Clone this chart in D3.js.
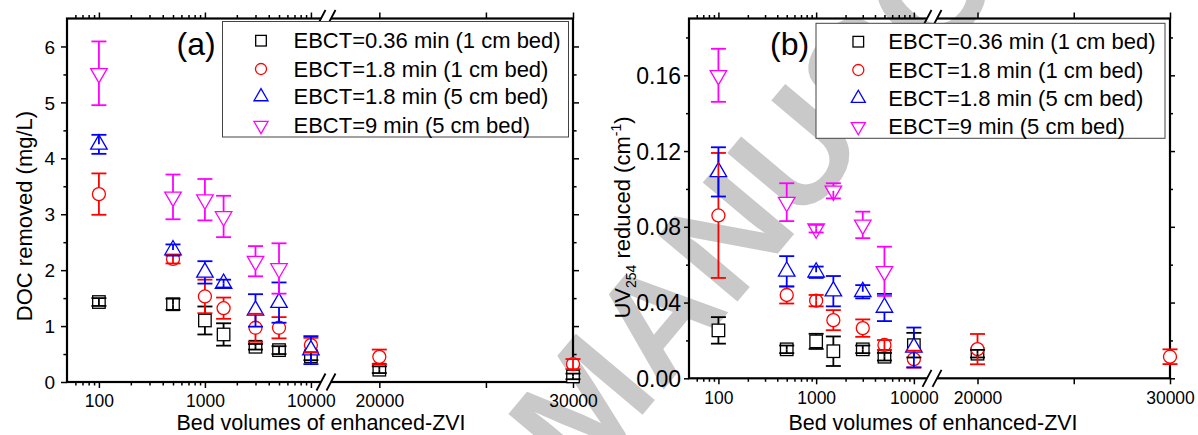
<!DOCTYPE html>
<html>
<head>
<meta charset="utf-8">
<script src="https://cdn.jsdelivr.net/npm/d3@7"></script>
<style>
  html, body { margin: 0; padding: 0; background: #fff; }
  svg { display: block; font-family: "Liberation Sans", Arial, Helvetica, sans-serif; }
</style>
</head>
<body>
<svg id="chart" width="1198" height="435"></svg>
<script>
// ---- data ---------------------------------------------------------------
// bed volumes at which the effluent was sampled
const bedVolumes = [100, 500, 1000, 1500, 3000, 5000, 10000, 20000, 30000];

const seriesNames = [
  "EBCT=0.36 min (1 cm bed)",
  "EBCT=1.8 min (1 cm bed)",
  "EBCT=1.8 min (5 cm bed)",
  "EBCT=9 min (5 cm bed)"
];
const seriesColors = ["#000000", "#ff0000", "#0000ff", "#ff00ff"];
const seriesShapes = ["square", "circle", "triangleUp", "triangleDown"];

// (a) DOC removed, mg/L (mean and standard deviation)
const docShortBed036 = [1.43, 1.39, 1.10, 0.85, 0.63, 0.57, 0.46, 0.22, 0.10];
const docShortBed036Sd = [0.07, 0.10, 0.25, 0.20, 0.05, 0.07, 0.07, 0.06, 0.05];
const docShortBed18 = [3.36, 2.20, 1.53, 1.32, 0.97, 0.97, 0.66, 0.45, 0.32];
const docShortBed18Sd = [0.37, 0.08, 0.30, 0.19, 0.25, 0.19, 0.13, 0.13, 0.09];
const docLongBed18 = [4.25, 2.36, 1.96, 1.76, 1.28, 1.42, 0.57, null, null];
const docLongBed18Sd = [0.17, 0.10, 0.20, 0.07, 0.29, 0.36, 0.25, null, null];
const docLongBed9 = [5.52, 3.31, 3.26, 2.96, 2.16, 2.03, null, null, null];
const docLongBed9Sd = [0.57, 0.40, 0.37, 0.37, 0.27, 0.45, null, null, null];

// (b) UV254 reduced, 1/cm (mean and standard deviation)
const uvShortBed036 = [0.0253, 0.0153, 0.0195, 0.0143, 0.0153, 0.0114, 0.0175, 0.0130, null];
const uvShortBed036Sd = [0.0070, 0.0020, 0.0040, 0.0078, 0.0020, 0.0020, 0.0065, 0.0020, null];
const uvShortBed18 = [0.0860, 0.0440, 0.0410, 0.0307, 0.0265, 0.0176, 0.0101, 0.0154, 0.0114];
const uvShortBed18Sd = [0.0330, 0.0045, 0.0030, 0.0053, 0.0046, 0.0026, 0.0045, 0.0080, 0.0039];
const uvLongBed18 = [0.1090, 0.0565, 0.0560, 0.0460, 0.0457, 0.0374, 0.0163, null, null];
const uvLongBed18Sd = [0.0130, 0.0080, 0.0030, 0.0080, 0.0035, 0.0072, 0.0105, null, null];
const uvLongBed9 = [0.1600, 0.0930, 0.0790, 0.0990, 0.0810, 0.0565, null, null, null];
const uvLongBed9Sd = [0.0140, 0.0100, 0.0020, 0.0040, 0.0070, 0.0130, null, null, null];

// axis ranges and ticks
const lowerBvDomain = [50, 13000];      // logarithmic part of the broken axis
const upperBvDomain = [18000, 30000];   // part after the axis break
const bvMajorLow = [100, 1000, 10000];
const bvMinorLow = [60, 70, 80, 90, 200, 300, 400, 500, 600, 700, 800, 900,
                    2000, 3000, 4000, 5000, 6000, 7000, 8000, 9000];
const bvMajorHigh = [20000, 25000, 30000];
const bvHighLabels = ["20000", "", "30000"];

const docMax = 6.5;
const docTicks = [0, 1, 2, 3, 4, 5, 6];
const docMinorTicks = [0.5, 1.5, 2.5, 3.5, 4.5, 5.5];
const uvMax = 0.19;
const uvTicks = [0, 0.04, 0.08, 0.12, 0.16];
const uvMinorTicks = [0.02, 0.06, 0.10, 0.14, 0.18];

// ---- drawing ------------------------------------------------------------
const svg = d3.select("#chart");

// background watermark
svg.append("text")
  .attr("transform", "translate(581,488) rotate(-50)")
  .attr("fill", "#c9c9c9")
  .attr("font-weight", "bold")
  .attr("font-size", 150)
  .text("MANUSCRIPT");

const SQ = 12.5, CR = 6.5, TRI = 16.5;

function symbolPath(shape, k) {
  const s = TRI * k, h = s * Math.sqrt(3) / 2;
  if (shape === "triangleUp")
    return `M0,${-2 * h / 3}L${s / 2},${h / 3}L${-s / 2},${h / 3}Z`;
  return `M0,${2 * h / 3}L${s / 2},${-h / 3}L${-s / 2},${-h / 3}Z`;
}

function drawSymbol(g, shape, color, cx, cy, k) {
  if (shape === "square") {
    g.append("rect").attr("x", cx - SQ * k / 2).attr("y", cy - SQ * k / 2)
      .attr("width", SQ * k).attr("height", SQ * k)
      .attr("fill", "#fff").attr("stroke", color).attr("stroke-width", 1.3);
  } else if (shape === "circle") {
    g.append("circle").attr("cx", cx).attr("cy", cy).attr("r", CR * k)
      .attr("fill", "#fff").attr("stroke", color).attr("stroke-width", 1.3);
  } else {
    g.append("path").attr("transform", `translate(${cx},${cy})`)
      .attr("d", symbolPath(shape, k))
      .attr("fill", "#fff").attr("stroke", color).attr("stroke-width", 1.3);
  }
}

// vertical extent of a symbol above / below its centre
function symbolEdges(shape) {
  const h = TRI * Math.sqrt(3) / 2;
  if (shape === "square") return [SQ / 2, SQ / 2];
  if (shape === "circle") return [CR, CR];
  if (shape === "triangleUp") return [2 * h / 3, h / 3];
  return [h / 3, 2 * h / 3];
}

function drawPanel(p) {
  const g = svg.append("g");
  const sxLow = d3.scaleLog().domain(lowerBvDomain).range([p.left, p.lowEnd]);
  const sxHigh = (p.highLog ? d3.scaleLog() : d3.scaleLinear())
    .domain(upperBvDomain).range([p.highStart, p.right]);
  const x = v => (v <= lowerBvDomain[1] ? sxLow(v) : sxHigh(v));
  const y = d3.scaleLinear().domain([0, p.yMax]).range([p.bottom, p.top]);

  const styleTicks = sel => {
    sel.select(".domain").remove();
    sel.selectAll("line").attr("stroke", "#000").attr("stroke-width", 1.5);
  };
  const noLabel = () => "";

  // x ticks, bottom (labelled) and top (mirrored)
  [[sxLow, bvMajorLow, bvMinorLow], [sxHigh, bvMajorHigh, []]].forEach(([sc, maj, min], i) => {
    const labels = i === 0 ? d3.format("d") : (d => bvHighLabels[bvMajorHigh.indexOf(d)]);
    const bm = g.append("g").attr("transform", `translate(0,${p.bottom})`)
      .call(d3.axisBottom(sc).tickValues(maj).tickSize(6).tickFormat(labels));
    styleTicks(bm);
    bm.selectAll("text").attr("y", p.xLabelY - p.bottom).attr("dy", "0.35em")
      .attr("font-size", 17.5).attr("fill", "#000").attr("font-family", null);
    if (min.length) {
      styleTicks(g.append("g").attr("transform", `translate(0,${p.bottom})`)
        .call(d3.axisBottom(sc).tickValues(min).tickSize(3.5).tickFormat(noLabel)));
      styleTicks(g.append("g").attr("transform", `translate(0,${p.top})`)
        .call(d3.axisTop(sc).tickValues(min).tickSize(3.5).tickFormat(noLabel)));
    }
    styleTicks(g.append("g").attr("transform", `translate(0,${p.top})`)
      .call(d3.axisTop(sc).tickValues(maj).tickSize(6).tickFormat(noLabel)));
  });

  // y ticks, left (labelled) and right (mirrored)
  const ly = g.append("g").attr("transform", `translate(${p.left},0)`)
    .call(d3.axisLeft(y).tickValues(p.yTicks).tickSize(p.yTickLen)
      .tickPadding(p.yPad).tickFormat(p.yFmt));
  styleTicks(ly);
  ly.selectAll("text").attr("font-size", p.yFont).attr("fill", "#000")
    .attr("dy", "0.35em").attr("font-family", null);
  styleTicks(g.append("g").attr("transform", `translate(${p.left},0)`)
    .call(d3.axisLeft(y).tickValues(p.yMinor).tickSize(p.yTickLen * 0.6).tickFormat(noLabel)));
  styleTicks(g.append("g").attr("transform", `translate(${p.right},0)`)
    .call(d3.axisRight(y).tickValues(p.yTicks).tickSize(p.yTickLen).tickFormat(noLabel)));
  styleTicks(g.append("g").attr("transform", `translate(${p.right},0)`)
    .call(d3.axisRight(y).tickValues(p.yMinor).tickSize(p.yTickLen * 0.6).tickFormat(noLabel)));

  // frame
  g.append("rect").attr("x", p.left).attr("y", p.top)
    .attr("width", p.right - p.left).attr("height", p.bottom - p.top)
    .attr("fill", "none").attr("stroke", "#000").attr("stroke-width", 2.2);

  // axis break marks
  [p.top, p.bottom].forEach(yy => {
    g.append("rect").attr("x", p.breakX - 5).attr("y", yy - 2)
      .attr("width", 10).attr("height", 4).attr("fill", "#fff");
    [-5, 5].forEach(off => {
      g.append("line")
        .attr("x1", p.breakX + off - 4.5).attr("y1", yy + 8.5)
        .attr("x2", p.breakX + off + 4.5).attr("y2", yy - 8.5)
        .attr("stroke", "#000").attr("stroke-width", 1.8);
    });
  });

  // symbols (all series first), then error bars on top
  const marks = g.append("g");
  const bars = g.append("g");
  p.series.forEach((s, si) => {
    const shape = seriesShapes[si], color = seriesColors[si];
    bedVolumes.forEach((bv, i) => {
      const v = s.mean[i];
      if (v == null) return;
      drawSymbol(marks, shape, color, x(bv), y(v), 1);
    });
  });
  p.series.forEach((s, si) => {
    const shape = seriesShapes[si], color = seriesColors[si];
    const [up, down] = symbolEdges(shape);
    bedVolumes.forEach((bv, i) => {
      const v = s.mean[i], e = s.sd[i];
      if (v == null || e == null) return;
      const cx = x(bv), cy = y(v), yt = y(v + e), yb = y(v - e);
      const bg = bars.append("g").attr("stroke", color).attr("stroke-width", 1.8);
      const topFrom = yt < cy - up - 0.5 ? cy - up : cy;
      const botFrom = yb > cy + down + 0.5 ? cy + down : cy;
      bg.append("line").attr("x1", cx).attr("x2", cx).attr("y1", topFrom).attr("y2", yt);
      bg.append("line").attr("x1", cx).attr("x2", cx).attr("y1", botFrom).attr("y2", yb);
      bg.append("line").attr("x1", cx - 7.5).attr("x2", cx + 7.5).attr("y1", yt).attr("y2", yt);
      bg.append("line").attr("x1", cx - 7.5).attr("x2", cx + 7.5).attr("y1", yb).attr("y2", yb);
    });
  });

  // axis titles
  g.append("text").attr("x", p.xTitleX).attr("y", p.xTitleY)
    .attr("text-anchor", "middle").attr("font-size", 21.5)
    .text("Bed volumes of enhanced-ZVI");
  const yt = g.append("text")
    .attr("transform", `translate(${p.yTitleX},${p.yTitleY}) rotate(-90)`)
    .attr("text-anchor", "middle").attr("font-size", 22);
  p.yTitle(yt);

  // panel letter
  g.append("text").attr("x", p.tagX).attr("y", 55).attr("font-size", 32).text(p.tag);

  // legend
  const L = p.legend;
  g.append("rect").attr("x", L.x0).attr("y", L.y0)
    .attr("width", L.x1 - L.x0).attr("height", L.y1 - L.y0)
    .attr("fill", "#fff").attr("stroke", "#444").attr("stroke-width", 1);
  seriesNames.forEach((name, si) => {
    drawSymbol(g, seriesShapes[si], seriesColors[si], L.symX, L.rows[si], 0.85);
    g.append("text").attr("x", L.textX).attr("y", L.rows[si]).attr("dy", "0.35em")
      .attr("font-size", 22).text(name);
  });
}

drawPanel({
  left: 67, right: 573, top: 18.5, bottom: 382,
  lowEnd: 323, highStart: 329, breakX: 326, highLog: true,
  yMax: docMax, yTicks: docTicks, yMinor: docMinorTicks,
  yFmt: d3.format("d"), yFont: 19, yTickLen: 6, yPad: 6,
  xLabelY: 401, xTitleX: 321, xTitleY: 430.4,
  yTitleX: 31.5, yTitleY: 216,
  yTitle: t => t.text("DOC removed (mg/L)"),
  tag: "(a)", tagX: 176.5,
  legend: { x0: 222.5, y0: 21.5, x1: 568.5, y1: 137, symX: 261, textX: 293.5,
            rows: [40.7, 69, 96.7, 125.5] },
  series: [
    { mean: docShortBed036, sd: docShortBed036Sd },
    { mean: docShortBed18, sd: docShortBed18Sd },
    { mean: docLongBed18, sd: docLongBed18Sd },
    { mean: docLongBed9, sd: docLongBed9Sd }
  ]
});

drawPanel({
  left: 689, right: 1170, top: 18.5, bottom: 378.3,
  lowEnd: 925, highStart: 939, breakX: 932, highLog: false,
  yMax: uvMax, yTicks: uvTicks, yMinor: uvMinorTicks,
  yFmt: d3.format(".2f"), yFont: 23, yTickLen: 5, yPad: 3,
  xLabelY: 398, xTitleX: 933, xTitleY: 429.5,
  yTitleX: 630, yTitleY: 217.5,
  yTitle: t => {
    t.append("tspan").text("UV");
    t.append("tspan").attr("font-size", 14).attr("dy", 6).text("254");
    t.append("tspan").attr("dy", -6).text(" reduced (cm");
    t.append("tspan").attr("font-size", 14).attr("dy", -9).text("-1");
    t.append("tspan").attr("dy", 9).text(")");
  },
  tag: "(b)", tagX: 770,
  legend: { x0: 816, y0: 23.3, x1: 1165, y1: 138.3, symX: 858.3, textX: 888.3,
            rows: [41.7, 70, 98.3, 126.7] },
  series: [
    { mean: uvShortBed036, sd: uvShortBed036Sd },
    { mean: uvShortBed18, sd: uvShortBed18Sd },
    { mean: uvLongBed18, sd: uvLongBed18Sd },
    { mean: uvLongBed9, sd: uvLongBed9Sd }
  ]
});
</script>
</body>
</html>
